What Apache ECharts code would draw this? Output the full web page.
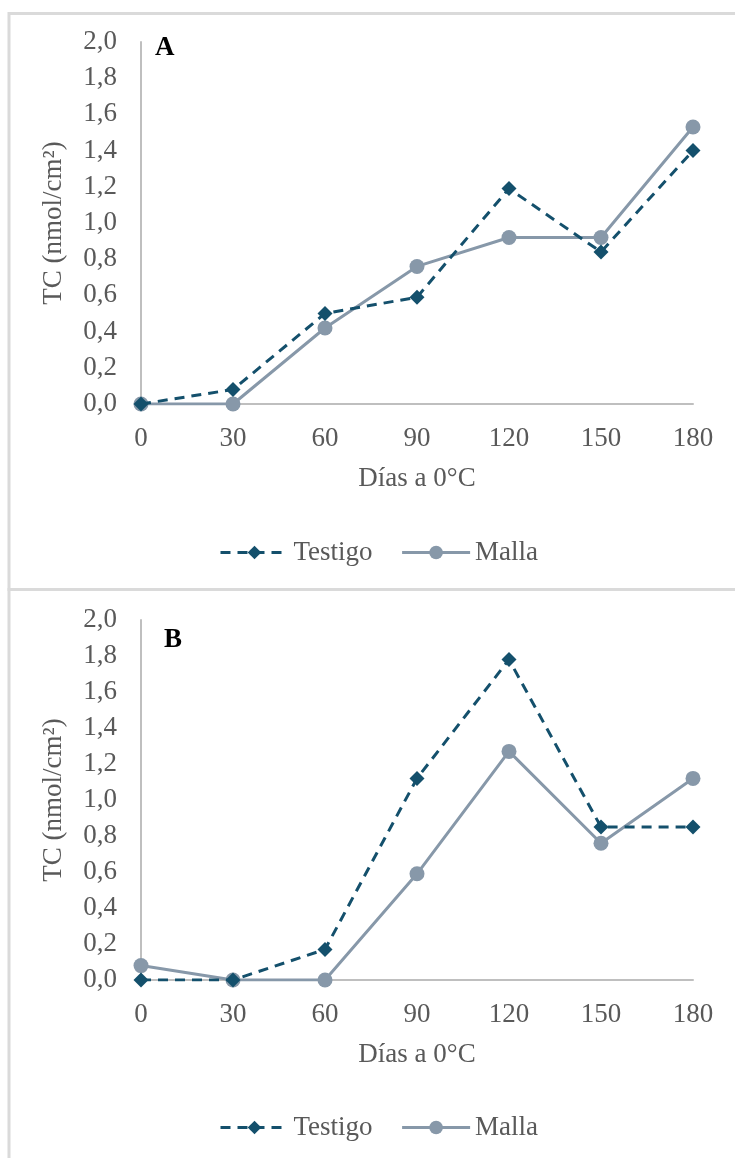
<!DOCTYPE html>
<html>
<head>
<meta charset="utf-8">
<script src="https://cdn.jsdelivr.net/npm/echarts@6/dist/echarts.min.js"></script>
<style>
  html, body { margin: 0; padding: 0; background: #fff; }
  #main { width: 735px; height: 1158px; }
</style>
</head>
<body>
<div id="main"></div>
<script>
var dias = ['0', '30', '60', '90', '120', '150', '180'];
var testigoA = [0, 0.08, 0.50, 0.59, 1.19, 0.84, 1.40];
var mallaA = [0, 0, 0.42, 0.76, 0.92, 0.92, 1.53];
var testigoB = [0, 0, 0.17, 1.12, 1.78, 0.85, 0.85];
var mallaB = [0.08, 0, 0, 0.59, 1.27, 0.76, 1.12];

var font = 'Liberation Serif';
var fs = 27;
var gris = '#595959';
var cTestigo = '#14506c';
var cMalla = '#8798a9';

function yAxisDef(gi) {
  return {
    gridIndex: gi,
    type: 'value',
    min: 0, max: 2, interval: 0.2,
    name: 'TC (nmol/cm²)',
    nameLocation: 'middle',
    nameRotate: 90,
    nameGap: 74,
    nameTextStyle: { fontFamily: font, fontSize: fs, color: gris },
    axisLine: { show: true, lineStyle: { color: '#bfbfbf', width: 2 } },
    axisTick: { show: false },
    splitLine: { show: false },
    axisLabel: {
      fontFamily: font, fontSize: fs, color: gris, margin: 24,
      formatter: function (v) { return v.toFixed(1).replace('.', ','); }
    }
  };
}

function xAxisDef(gi) {
  return {
    gridIndex: gi,
    type: 'category',
    data: dias,
    boundaryGap: false,
    name: 'Días a 0°C',
    nameLocation: 'middle',
    nameGap: 61,
    nameTextStyle: { fontFamily: font, fontSize: fs, color: gris },
    axisLine: { lineStyle: { color: '#bfbfbf', width: 2 } },
    axisTick: { show: false },
    axisLabel: { fontFamily: font, fontSize: fs, color: gris, margin: 21 }
  };
}

function testigo(idx, vals) {
  return {
    name: 'Testigo', type: 'line', data: vals,
    xAxisIndex: idx, yAxisIndex: idx,
    symbol: 'diamond', symbolSize: 15,
    itemStyle: { color: cTestigo },
    lineStyle: { color: cTestigo, width: 3, type: [10, 7] },
    z: 3
  };
}

function malla(idx, vals) {
  return {
    name: 'Malla', type: 'line', data: vals,
    xAxisIndex: idx, yAxisIndex: idx,
    symbol: 'circle', symbolSize: 15,
    itemStyle: { color: cMalla },
    lineStyle: { color: cMalla, width: 3 },
    z: 2
  };
}

function legendDef(top) {
  return {
    top: top, left: 214,
    itemWidth: 68, itemHeight: 17, itemGap: 28,
    lineStyle: { width: 3 },
    textStyle: { fontFamily: font, fontSize: fs, color: gris },
    data: ['Testigo', 'Malla']
  };
}

var chart = echarts.init(document.getElementById('main'));
chart.setOption({
  animation: false,
  backgroundColor: '#fff',
  title: [
    { text: 'A', left: 150, top: 30, textStyle: { fontFamily: font, fontSize: fs, fontWeight: 'bold', color: '#000' } },
    { text: 'B', left: 159, top: 622, textStyle: { fontFamily: font, fontSize: fs, fontWeight: 'bold', color: '#000' } }
  ],
  graphic: [
    { type: 'rect', shape: { x: 9, y: 13.5, width: 740, height: 576 }, style: { fill: 'none', stroke: '#dadada', lineWidth: 3 } },
    { type: 'rect', shape: { x: 9, y: 589.5, width: 740, height: 600 }, style: { fill: 'none', stroke: '#dadada', lineWidth: 3 } }
  ],
  legend: [legendDef(534), legendDef(1109)],
  grid: [
    { left: 141, right: 42, top: 42, height: 362 },
    { left: 141, right: 42, top: 620, height: 360 }
  ],
  xAxis: [xAxisDef(0), xAxisDef(1)],
  yAxis: [yAxisDef(0), yAxisDef(1)],
  series: [
    testigo(0, testigoA), malla(0, mallaA),
    testigo(1, testigoB), malla(1, mallaB)
  ]
});
</script>
</body>
</html>
